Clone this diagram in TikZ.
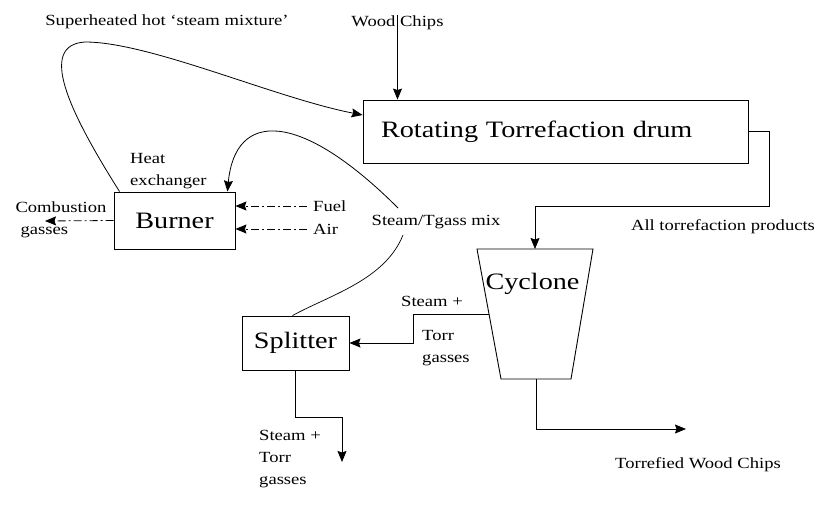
\documentclass[tikz,border=0pt]{standalone}
\usepackage{fontspec}
\setmainfont{Liberation Serif}[FakeStretch=1.2]
\usepackage{tikz}
\usetikzlibrary{arrows.meta}
\usetikzlibrary{calc}
\usetikzlibrary{positioning}
\newcommand{\flowfont}{\fontsize{15.5}{22}\selectfont}
\newcommand{\unitfont}{\fontsize{23.5}{28}\selectfont}
\tikzstyle{unit}=[rectangle, draw=black, line width=0.9pt, inner sep=0pt, text centered, font=\unitfont]
\tikzstyle{flow}=[draw,->,>={Stealth[length=11pt,width=9pt,inset=1.5pt]}, line width=0.8pt]
\tikzstyle{dashflow}=[flow, dash pattern=on 8pt off 3pt on 2pt off 3pt]
\tikzstyle{pipe}=[draw, line width=0.7pt]
\tikzstyle{lbl}=[font=\flowfont, inner sep=1pt, align=left]

\begin{document}
\begin{tikzpicture}[x=1pt, y=-1pt]
\useasboundingbox (0,0) rectangle (832,505);

\node[unit, minimum width=385pt, minimum height=63pt, text width=349pt, inner xsep=18pt, align=left] (drum) at (555.5,131.5) {Rotating Torrefaction drum};
\node[unit, minimum width=121pt, minimum height=57pt] (burner) at (174.5,220.5) {Burner};
\node[unit, minimum width=107pt, minimum height=54pt] (splitter) at (295.5,343) {Splitter};

% cyclone body
\coordinate (cyctl) at (477,249);
\coordinate (cyctr) at (593,249);
\coordinate (cycbr) at (571,379);
\coordinate (cycbl) at (501,379);
\draw[line width=0.9pt] (cyctl) -- (cyctr) -- (cycbr) -- (cycbl) -- cycle;
\node[font=\unitfont] (cyclone) at (532.5,284) {Cyclone};

% labels
\node[lbl] (steamloop) at (167,22) {Superheated hot `steam mixture'};
\node[lbl] (woodin) at (397.5,23) {Wood Chips};
\node[lbl, anchor=west] (heatx) at (129,171) {Heat\\exchanger};
\node[lbl, anchor=west] (fuel) at (312,206) {Fuel};
\node[lbl, anchor=west] (air) at (312,229) {Air};
\node[lbl] (combgas) at (61,220) {Combustion\\\hspace{5pt}gasses};
\node[lbl] (mix) at (436,222) {Steam/Tgass mix};
\node[lbl] (allprod) at (723,227) {All torrefaction products};
\node[lbl, anchor=west] (cycsteam) at (400,301) {Steam +};
\node[lbl, anchor=west] (cycgas) at (421,348) {Torr\\gasses};
\node[lbl, anchor=west] (splitgas) at (258,459) {Steam +\\Torr\\gasses};
\node[lbl] (chipsout) at (698,465) {Torrefied Wood Chips};

% flows
\draw[flow] (woodin.north) -- (woodin.north |- drum.north);
\draw[flow] ([xshift=6pt]burner.north west) .. controls (68,110) and (38,45) .. (85,42) .. controls (150,42) and (275,98) .. ([yshift=16.5pt]drum.west);
\draw[flow] ([shift={(-38pt,6pt)}]mix.north) .. controls (300,110) and (235,110) .. ([xshift=-8pt]burner.north east);
\draw[pipe] ([shift={(-33pt,-5pt)}]mix.south) .. controls (385,280) and (330,295) .. ([xshift=-3pt]splitter.north);
\draw[dashflow] ([xshift=-5pt]fuel.west) -- (fuel.west -| burner.east);
\draw[dashflow] ([xshift=-5pt]air.west) -- (air.west -| burner.east);
\coordinate (combend) at (45,221);
\draw[dashflow] (burner.west) -- (combend);
\coordinate (cycin) at (535,249);
\draw[flow] (drum.east) -- ++(21,0) -- ++(0,74.5) -| (cycin);
\coordinate (cycside) at (489,314);
\draw[flow] (cycside) -- ++(-76,0) |- (splitter.east);
\coordinate (steamend) at (342,462);
\draw[flow] (splitter.south) -- ++(0,47) -| (steamend);
\coordinate (cycout) at (536,379);
\coordinate (chipsend) at (686,429);
\draw[flow] (cycout) |- (chipsend);

\end{tikzpicture}
\end{document}
